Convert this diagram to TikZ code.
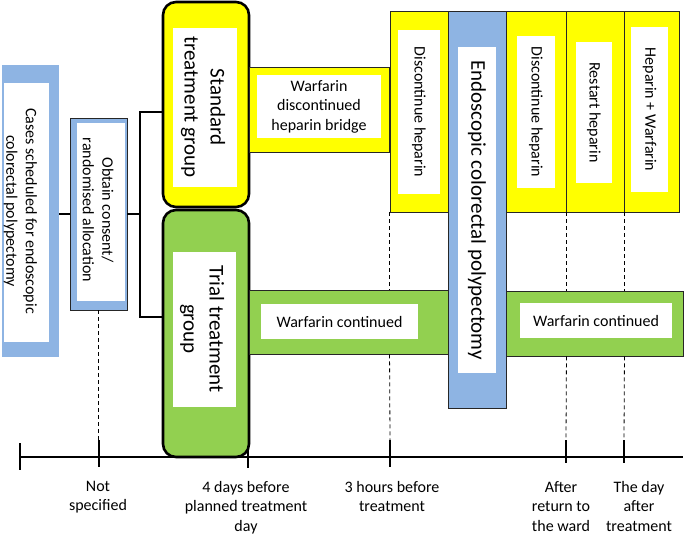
\documentclass[tikz,border=0pt]{standalone}
\usepackage{fontspec}
\setmainfont{Carlito}
\usetikzlibrary{fit}
\definecolor{ylw}{HTML}{FFFF00}
\definecolor{grn}{HTML}{92D050}
\definecolor{blu}{HTML}{8EB4E3}
\tikzset{
  frame/.style={inner sep=0pt, line width=0.9pt, draw=black!85},
  ybox/.style={frame, fill=ylw},
  gbox/.style={frame, fill=grn},
  bbox/.style={frame, fill=blu},
  plainblue/.style={inner sep=0pt, fill=blu},
  grp/.style={inner sep=0pt, line width=2.6pt, draw=black, rounded corners=13pt},
  wbox/.style={inner sep=0pt, fill=white},
  txt/.style={font=\fontsize{16}{19.5}\selectfont, align=center, inner sep=0pt},
  bigtxt/.style={font=\fontsize{21}{26}\selectfont, align=center, inner sep=0pt},
  conn/.style={line width=1.8pt},
  axisline/.style={line width=2pt},
  guide/.style={line width=0.8pt, dash pattern=on 4pt off 3pt}
}
\begin{document}
\begin{tikzpicture}[x=1pt,y=-1pt]
\useasboundingbox (0,0) rectangle (685,538);
% timeline
\coordinate (ax0) at (20,457);
\coordinate (ax1) at (683,457);
\draw[axisline] (ax0) -- (ax1);
\coordinate (t0) at (20,443); \coordinate (t0b) at (20,470);
\coordinate (t1) at (98.5,440); \coordinate (t1b) at (98.5,467);
\coordinate (t2) at (248,440); \coordinate (t2b) at (248,468);
\coordinate (t3) at (390,440); \coordinate (t3b) at (390,467);
\coordinate (t4) at (566,440); \coordinate (t4b) at (566,463);
\coordinate (t5) at (624,440); \coordinate (t5b) at (624,463);
\foreach \t in {t0,t1,t2,t3,t4,t5} \draw[axisline] (\t) -- (\t b);

% cases box
\node[plainblue, fit={(2,65) (59,357)}] (cases) {};
\node[wbox, fit={(4,83) (49,342)}] (casesw) {};
\node[txt, rotate=-90] (casest) at (20.5,211) {Cases scheduled for endoscopic\\colorectal polypectomy};

% consent box
\node[bbox, fit={(70,118) (127,310)}] (consent) {};
\node[wbox, fit={(77,123) (125,301)}] (consentw) {};
\node[txt, rotate=-90] (consentt) at (98,210) {Obtain consent/\\randomised allocation};

% groups
\node[grp, fill=ylw, fit={(163,2) (249,207)}] (std) {};
\node[wbox, fit={(173,28) (237,187)}] (stdw) {};
\node[bigtxt, rotate=-90] (stdt) at (203,107) {Standard\\treatment group};

\node[grp, fill=grn, fit={(163,210) (249,457)}] (trial) {};
\node[wbox, fit={(173,252) (236,407)}] (trialw) {};
\node[bigtxt, rotate=-90] (trialt) at (202,329) {Trial treatment\\group};

% connectors
\coordinate (bt) at (140,112);
\coordinate (bb) at (140,317);
\draw[conn] (cases.east |- consent.west) -- (consent.west);
\draw[conn] (consent.east) -- (consent.east -| bt);
\draw[conn] (std.west |- bt) -- (bt) -- (bb) -- (trial.west |- bb);

% standard arm
\node[ybox, fit={(249,67) (389,152)}] (wdh) {};
\node[wbox, fit={(257,75) (381,138)}] (wdhw) {};
\node[txt] (wdht) at (wdhw.center) {Warfarin\\discontinued\\heparin bridge};

\node[ybox, fit={(390,11) (448,212)}] (dh1) {};
\node[wbox, fit={(398,30) (440,194)}] (dh1w) {};
\node[txt, rotate=-90] (dh1t) at (dh1w.center) {Discontinue heparin};

\node[ybox, fit={(506,11) (566,212)}] (dh2) {};
\node[wbox, fit={(517,36) (555,188)}] (dh2w) {};
\node[txt, rotate=-90] (dh2t) at (dh2w.center) {Discontinue heparin};

\node[ybox, fit={(566,11) (624,212)}] (rh) {};
\node[wbox, fit={(576,42) (612,183)}] (rhw) {};
\node[txt, rotate=-90] (rht) at (rhw.center) {Restart heparin};

\node[ybox, fit={(624,11) (679,212)}] (hw) {};
\node[wbox, fit={(631,27) (668,192)}] (hww) {};
\node[txt, rotate=-90] (hwt) at (hww.center) {Heparin + Warfarin};

% trial arm
\node[gbox, fit={(249,290) (448,354)}] (wc1) {};
\node[wbox, fit={(261,304) (418,339)}] (wc1w) {};
\node[txt] (wc1t) at (wc1w.center) {Warfarin continued};

\node[gbox, fit={(506,291) (683,356)}] (wc2) {};
\node[wbox, fit={(520,303) (672,338)}] (wc2w) {};
\node[txt] (wc2t) at (wc2w.center) {Warfarin continued};

% polypectomy
\node[bbox, fit={(448,11) (506,408)}] (endo) {};
\node[wbox, fit={(458,47) (496,373)}] (endow) {};
\node[bigtxt, rotate=-90] (endot) at (477,210) {Endoscopic colorectal polypectomy};

% dashed guides
\draw[guide] (consent.south) -- (t1);
\draw[guide] (dh1.south west) -- (dh1.south west |- wc1.north);
\draw[guide] (dh1.south west |- wc1.south) -- (t3);
\draw[guide] (dh2.south east) -- (dh2.south east |- wc2.north);
\draw[guide] (dh2.south east |- wc2.south) -- (t4);
\draw[guide] (rh.south east) -- (rh.south east |- wc2.north);
\draw[guide] (rh.south east |- wc2.south) -- (t5);

% time labels
\node[txt, anchor=north] (l1) at (98,481) {Not\\specified};
\node[txt, anchor=north] (l2) at (246,481) {4 days before\\planned treatment\\day};
\node[txt, anchor=north] (l3) at (392,481) {3 hours before\\treatment};
\node[txt, anchor=north] (l4) at (561,481) {After\\return to\\the ward};
\node[txt, anchor=north] (l5) at (639,481) {The day\\after\\treatment};
\end{tikzpicture}
\end{document}
